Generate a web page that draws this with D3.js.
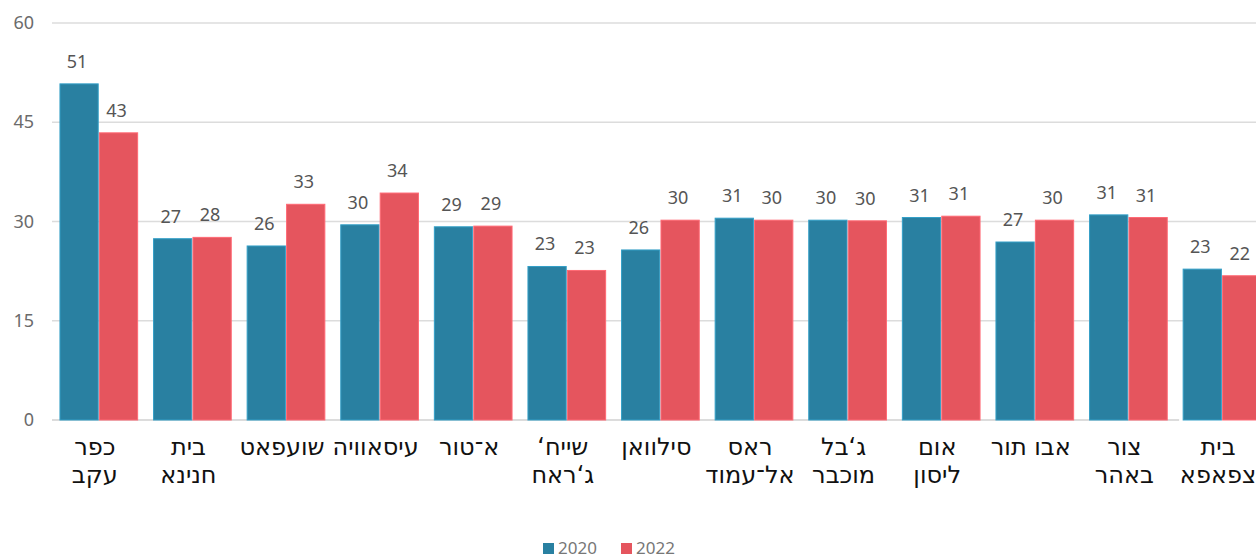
<!DOCTYPE html>
<html>
<head>
<meta charset="utf-8">
<script src="https://cdn.jsdelivr.net/npm/d3@7"></script>
<style>
  body { margin: 0; background: #fff; }
  svg { display: block; }
</style>
</head>
<body>
<svg></svg>
<script>
const svgWidth = 1256;
const svgHeight = 560;

// neighbourhoods, each label split into lines
// (geresh put first so it shows on the right, as in the source chart)
const categories = [
  ["כפר", "עקב"], ["בית", "חנינא"], ["שועפאט"], ["עיסאוויה"], ["א־טור"],
  ["‘שייח", "ג‘ראח"], ["סילוואן"], ["ראס", "אל־עמוד"], ["ג‘בל", "מוכבר"],
  ["אום", "ליסון"], ["אבו תור"], ["צור", "באהר"], ["בית", "צפאפא"]
];
const values2020 = [50.8, 27.4, 26.3, 29.5, 29.2, 23.2, 25.7, 30.5, 30.2, 30.6, 26.9, 31.0, 22.8];
const values2022 = [43.4, 27.6, 32.6, 34.3, 29.3, 22.6, 30.2, 30.2, 30.1, 30.8, 30.2, 30.6, 21.8];
const yTicks = [0, 15, 30, 45, 60];
const seriesNames = ["2020", "2022"];
const colors = ["#2980a1", "#e5555e"];

const marginLeft = 52, marginTop = 23, plotBottom = 420;

const svg = d3.select("svg")
  .attr("width", svgWidth)
  .attr("height", svgHeight);

const x = d3.scaleBand()
  .domain(d3.range(categories.length))
  .range([marginLeft, marginLeft + 93.6 * categories.length])
  .paddingInner(0.17)
  .paddingOuter(0.085);

const xs = d3.scaleBand()
  .domain([0, 1])
  .range([0, x.bandwidth()])
  .paddingInner(0.03);

const y = d3.scaleLinear().domain([0, 60]).range([plotBottom, marginTop]);

// gridlines
svg.append("g")
  .selectAll("line")
  .data(yTicks.filter(d => d > 0))
  .enter()
  .append("line")
  .attr("x1", marginLeft)
  .attr("x2", svgWidth)
  .attr("y1", d => y(d))
  .attr("y2", d => y(d))
  .attr("stroke", "#dcdcdc")
  .attr("stroke-width", 1.5);

// baseline stops before the last group, as in the original
svg.append("line")
  .attr("x1", marginLeft)
  .attr("x2", x(categories.length - 1) - 4)
  .attr("y1", y(0))
  .attr("y2", y(0))
  .attr("stroke", "#dcdcdc")
  .attr("stroke-width", 2);

// y tick labels
svg.append("g")
  .selectAll("text")
  .data(yTicks)
  .enter()
  .append("text")
  .attr("x", 34)
  .attr("y", d => y(d) + 6)
  .attr("text-anchor", "end")
  .attr("font-family", "'Noto Sans', sans-serif")
  .attr("font-size", 18)
  .attr("fill", "#6b6b6b")
  .text(d => d);

const rows = categories.map((c, i) => [values2020[i], values2022[i]]);

const groups = svg.append("g")
  .selectAll("g")
  .data(rows)
  .enter()
  .append("g")
  .attr("transform", (d, i) => `translate(${x(i)},0)`);

groups.selectAll("rect")
  .data(d => d)
  .enter()
  .append("rect")
  .attr("x", (d, j) => xs(j))
  .attr("width", xs.bandwidth())
  .attr("y", d => y(d))
  .attr("height", d => y(0) - y(d))
  .attr("fill", (d, j) => colors[j])
  .attr("stroke", (d, j) => d3.color(colors[j]).brighter(0.6))
  .attr("stroke-width", 1);

groups.selectAll("text.val")
  .data(d => d)
  .enter()
  .append("text")
  .attr("class", "val")
  .attr("x", (d, j) => xs(j) + xs.bandwidth() / 2 - 2)
  .attr("y", d => y(d) - 16)
  .attr("text-anchor", "middle")
  .attr("font-family", "'Noto Sans', sans-serif")
  .attr("font-size", 18)
  .attr("fill", "#555")
  .text(d => Math.round(d));

// category labels
const catLabels = svg.append("g")
  .selectAll("text")
  .data(categories)
  .enter()
  .append("text")
  .attr("x", (d, i) => x(i) + x.bandwidth() / 2 - 4)
  .attr("y", 455)
  .attr("text-anchor", "middle")
  .attr("font-family", "'DejaVu Sans', sans-serif")
  .attr("font-size", 24)
  .attr("fill", "#111");

catLabels.selectAll("tspan")
  .data(d => d)
  .enter()
  .append("tspan")
  .attr("x", function () { return d3.select(this.parentNode).attr("x"); })
  .attr("dy", (d, k) => k === 0 ? 0 : 28)
  .text(d => d);

// legend
const legend = svg.append("g").attr("transform", "translate(543,543)");
const items = legend.selectAll("g")
  .data(seriesNames)
  .enter()
  .append("g")
  .attr("transform", (d, i) => `translate(${i * 78},0)`);
items.append("rect")
  .attr("width", 11)
  .attr("height", 11)
  .attr("fill", (d, i) => colors[i]);
items.append("text")
  .attr("x", 15)
  .attr("y", 11)
  .attr("font-family", "'Noto Sans', sans-serif")
  .attr("font-size", 17)
  .attr("fill", "#777")
  .text(d => d);
</script>
</body>
</html>
